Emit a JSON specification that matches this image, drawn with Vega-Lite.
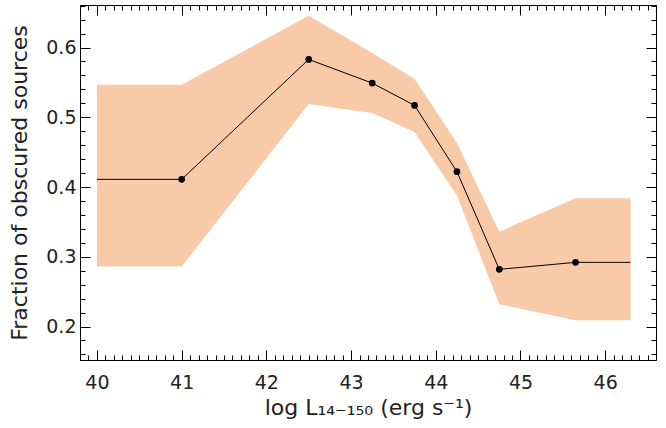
{
  "$schema": "https://vega.github.io/schema/vega-lite/v6.json",
  "width": 576,
  "height": 355,
  "autosize": "none",
  "padding": {"left": 80, "top": 5, "right": 10, "bottom": 68},
  "background": "white",
  "config": {
    "view": {"stroke": null},
    "axis": {
      "labelFont": "DejaVu Sans",
      "titleFont": "DejaVu Sans",
      "labelFontSize": 19,
      "titleFontSize": 22,
      "titleFontWeight": "normal",
      "labelColor": "#222",
      "titleColor": "#222",
      "domainColor": "#000",
      "tickColor": "#000",
      "domainWidth": 1,
      "tickWidth": 1,
      "grid": false
    }
  },
  "datasets": {
    "curve": [
      {"x": 40, "y": 0.411, "lo": 0.286, "hi": 0.5465, "marker": false},
      {"x": 41, "y": 0.411, "lo": 0.286, "hi": 0.5465, "marker": true},
      {"x": 42.5, "y": 0.583, "lo": 0.519, "hi": 0.6455, "marker": true},
      {"x": 43.25, "y": 0.549, "lo": 0.506, "hi": 0.592, "marker": true},
      {"x": 43.75, "y": 0.517, "lo": 0.479, "hi": 0.555, "marker": true},
      {"x": 44.25, "y": 0.422, "lo": 0.388, "hi": 0.463, "marker": true},
      {"x": 44.75, "y": 0.282, "lo": 0.232, "hi": 0.336, "marker": true},
      {"x": 45.65, "y": 0.292, "lo": 0.209, "hi": 0.384, "marker": true},
      {"x": 46.3, "y": 0.292, "lo": 0.209, "hi": 0.384, "marker": false}
    ]
  },
  "data": {"name": "curve"},
  "resolve": {"axis": {"x": "independent", "y": "independent"}},
  "layer": [
    {
      "mark": {"type": "area", "color": "#f8caa7", "opacity": 1},
      "encoding": {
        "x": {
          "field": "x", "type": "quantitative",
          "scale": {"domain": [39.8, 46.6], "nice": false, "zero": false},
          "axis": {
            "orient": "bottom",
            "title": "log L₁₄₋₁₅₀ (erg s⁻¹)",
            "values": [39.8,39.9,40,40.1,40.2,40.3,40.4,40.5,40.6,40.7,40.8,40.9,41,41.1,41.2,41.3,41.4,41.5,41.6,41.7,41.8,41.9,42,42.1,42.2,42.3,42.4,42.5,42.6,42.7,42.8,42.9,43,43.1,43.2,43.3,43.4,43.5,43.6,43.7,43.8,43.9,44,44.1,44.2,44.3,44.4,44.5,44.6,44.7,44.8,44.9,45,45.1,45.2,45.3,45.4,45.5,45.6,45.7,45.8,45.9,46,46.1,46.2,46.3,46.4,46.5,46.6],
            "labelExpr": "abs(datum.value - round(datum.value)) < 0.01 ? format(datum.value, 'd') : ''",
            "labelFlush": false,
            "labelOverlap": false,
            "tickSize": {"condition": {"test": "abs(datum.value - round(datum.value)) < 0.01", "value": -10}, "value": -5},
            "labelPadding": 23,
            "titlePadding": 0
          }
        },
        "y": {
          "field": "lo", "type": "quantitative",
          "scale": {"domain": [0.152, 0.661], "nice": false, "zero": false},
          "axis": {
            "orient": "left",
            "title": "Fraction of obscured sources",
            "values": [0.16,0.18,0.2,0.22,0.24,0.26,0.28,0.3,0.32,0.34,0.36,0.38,0.4,0.42,0.44,0.46,0.48,0.5,0.52,0.54,0.56,0.58,0.6,0.62,0.64,0.66],
            "labelExpr": "abs(datum.value * 10 - round(datum.value * 10)) < 0.01 ? format(datum.value, '.1f') : ''",
            "labelFlush": false,
            "labelOverlap": false,
            "tickSize": {"condition": {"test": "abs(datum.value * 10 - round(datum.value * 10)) < 0.01", "value": -10}, "value": -5},
            "labelPadding": 14,
            "titlePadding": 14
          }
        },
        "y2": {"field": "hi"}
      }
    },
    {
      "mark": {"type": "line", "color": "#000", "strokeWidth": 1},
      "encoding": {
        "x": {
          "field": "x", "type": "quantitative",
          "axis": {
            "orient": "top", "title": null, "labels": false,
            "values": [39.8,39.9,40,40.1,40.2,40.3,40.4,40.5,40.6,40.7,40.8,40.9,41,41.1,41.2,41.3,41.4,41.5,41.6,41.7,41.8,41.9,42,42.1,42.2,42.3,42.4,42.5,42.6,42.7,42.8,42.9,43,43.1,43.2,43.3,43.4,43.5,43.6,43.7,43.8,43.9,44,44.1,44.2,44.3,44.4,44.5,44.6,44.7,44.8,44.9,45,45.1,45.2,45.3,45.4,45.5,45.6,45.7,45.8,45.9,46,46.1,46.2,46.3,46.4,46.5,46.6],
            "tickSize": {"condition": {"test": "abs(datum.value - round(datum.value)) < 0.01", "value": -10}, "value": -5}
          }
        },
        "y": {
          "field": "y", "type": "quantitative",
          "axis": {
            "orient": "right", "title": null, "labels": false,
            "values": [0.16,0.18,0.2,0.22,0.24,0.26,0.28,0.3,0.32,0.34,0.36,0.38,0.4,0.42,0.44,0.46,0.48,0.5,0.52,0.54,0.56,0.58,0.6,0.62,0.64,0.66],
            "tickSize": {"condition": {"test": "abs(datum.value * 10 - round(datum.value * 10)) < 0.01", "value": -10}, "value": -5}
          }
        }
      }
    },
    {
      "transform": [{"filter": "datum.marker"}],
      "mark": {"type": "circle", "color": "#000", "opacity": 1, "size": 45},
      "encoding": {
        "x": {"field": "x", "type": "quantitative", "axis": null},
        "y": {"field": "y", "type": "quantitative", "axis": null}
      }
    }
  ]
}
